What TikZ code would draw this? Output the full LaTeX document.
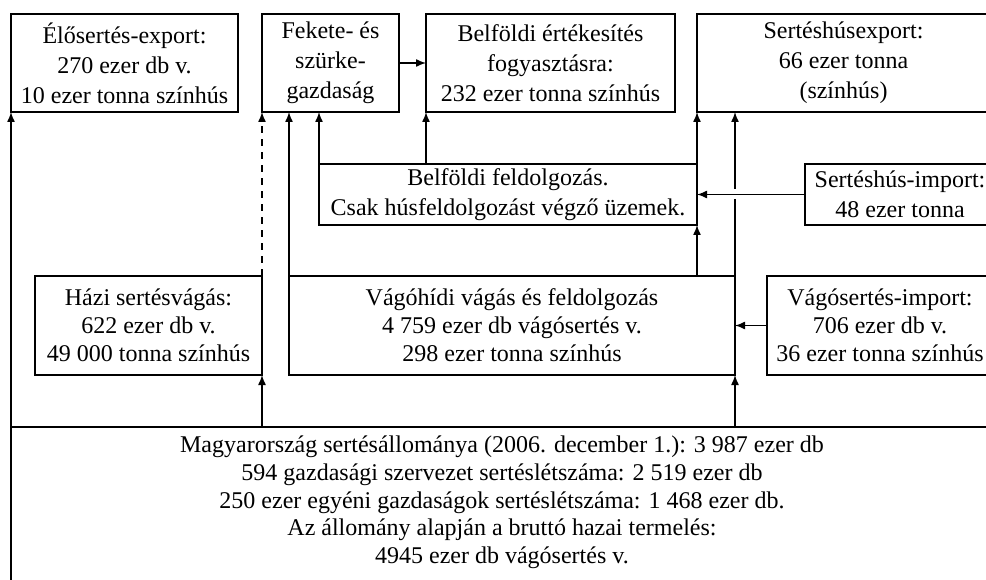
\documentclass[tikz,border=0pt]{standalone}
\usepackage{fontspec}
\setmainfont{Liberation Serif}
\usetikzlibrary{arrows.meta}
\begin{document}
\begin{tikzpicture}[x=1pt,y=-1pt,
  box/.style={draw,line width=2pt,inner sep=0pt,outer sep=0pt,align=center,font=\fontsize{24}{30}\selectfont},
  boxb/.style={box,font=\fontsize{24}{28}\selectfont},
  arr/.style={line width=1.4pt,-{Latex[length=10pt,width=8pt]}},
  dasharr/.style={arr,dash pattern=on 7pt off 6pt}
  ]
\useasboundingbox (0,0) rectangle (986,580);
\clip (0,0) rectangle (986,580);
% top row
\node[box,minimum width=227pt,minimum height=98pt] (elo) at (124.5,63) {Élősertés-export:\\270 ezer db v.\\10 ezer tonna színhús};
\node[box,minimum width=137pt,minimum height=98pt] (fek) at (330.5,63) {Fekete- és\\szürke-\\gazdaság};
\node[box,minimum width=249pt,minimum height=98pt] (bert) at (550.5,63) {Belföldi értékesítés\\fogyasztásra:\\232 ezer tonna színhús};
\node[box,minimum width=293pt,minimum height=98pt] (sexp) at (843.5,63) {Sertéshúsexport:\\66 ezer tonna\\(színhús)};
% second row
\node[box,minimum width=378pt,minimum height=61pt] (bfeld) at (508,194.5) {Belföldi feldolgozás.\\Csak húsfeldolgozást végző üzemek.};
\node[box,minimum width=190pt,minimum height=61pt] (simp) at (900,194.5) {Sertéshús-import:\\48 ezer tonna};
% third row
\node[boxb,minimum width=227pt,minimum height=99pt] (hazi) at (148.5,325.5) {Házi sertésvágás:\\622 ezer db v.\\49 000 tonna színhús};
\node[boxb,minimum width=446pt,minimum height=99pt] (vago) at (512,325.5) {Vágóhídi vágás és feldolgozás\\4 759 ezer db vágósertés v.\\298 ezer tonna színhús};
\node[boxb,minimum width=226pt,minimum height=99pt] (vimp) at (880,325.5) {Vágósertés-import:\\706 ezer db v.\\36 ezer tonna színhús};
% main box
\node[box,minimum width=982pt,minimum height=173pt] (main) at (502,513.5) {};
\node[align=center,inner sep=0pt,font=\fontsize{24}{27.7}\selectfont] (mt) at (502,502.5) {Magyarország sertésállománya (2006. december 1.): 3 987 ezer db\\594 gazdasági szervezet sertéslétszáma: 2 519 ezer db\\250 ezer egyéni gazdaságok sertéslétszáma: 1 468 ezer db.\\Az állomány alapján a bruttó hazai termelés:\\4945 ezer db vágósertés v.};
% connectors
\draw[arr] (main.north west) -- (elo.south west);
\draw[dasharr] (hazi.north east) -- (hazi.north east |- fek.south);
\draw[arr] (vago.north west) -- (vago.north west |- fek.south);
\draw[arr] (bfeld.north west) -- (bfeld.north west |- fek.south);
\draw[arr] (fek.east) -- (bert.west);
\draw[arr] (bert.south west |- bfeld.north) -- (bert.south west);
\draw[arr] (bfeld.north east) -- (bfeld.north east |- sexp.south);
\draw[arr] (vago.north east) -- (vago.north east |- sexp.south);
\draw[arr] (vago.north -| bfeld.south east) -- (bfeld.south east);
\draw[arr] (vimp.west) -- (vimp.west -| vago.east);
\draw[arr,preaction={draw=white,line width=10pt,-,shorten >=12pt,shorten <=12pt}] (simp.west) -- (simp.west -| bfeld.east);
\draw[arr] (hazi.south east |- main.north) -- (hazi.south east);
\draw[arr] (vago.south east |- main.north) -- (vago.south east);
\end{tikzpicture}
\end{document}
